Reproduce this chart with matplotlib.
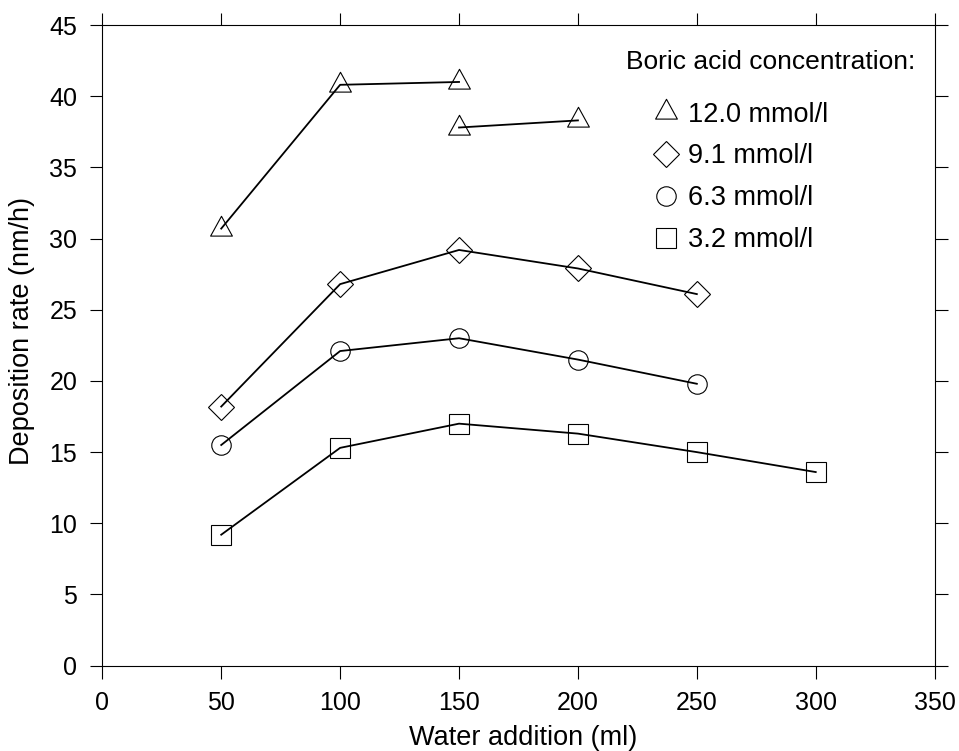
import matplotlib
matplotlib.use("Agg")
import matplotlib.pyplot as plt
from matplotlib.path import Path
from matplotlib.lines import Line2D

plt.rcParams['font.family'] = ['Liberation Sans', 'DejaVu Sans']

# ---- data ----
b120_x1 = [50, 100, 150]
b120_y1 = [30.7, 40.8, 41.0]
b120_x2 = [150, 200]
b120_y2 = [37.8, 38.3]
b91_x = [50, 100, 150, 200, 250]
b91_y = [18.2, 26.8, 29.2, 27.9, 26.1]
b63_x = [50, 100, 150, 200, 250]
b63_y = [15.5, 22.1, 23.0, 21.5, 19.8]
b32_x = [50, 100, 150, 200, 250, 300]
b32_y = [9.2, 15.3, 17.0, 16.3, 15.0, 13.6]

labels = ["12.0 mmol/l", "9.1 mmol/l", "6.3 mmol/l", "3.2 mmol/l"]
legend_title = "Boric acid concentration:"
xticks = [0, 50, 100, 150, 200, 250, 300, 350]
yticks = [0, 5, 10, 15, 20, 25, 30, 35, 40, 45]

# triangle centred on its centroid (w=22, h=20)
tri = Path([(0, 2/3*20), (-11, -20/3), (11, -20/3), (0, 2/3*20)],
           [Path.MOVETO, Path.LINETO, Path.LINETO, Path.CLOSEPOLY])

fig = plt.figure(figsize=(9.59, 7.51), dpi=100)
ax = fig.add_axes([0.1067, 0.1136, 0.8679, 0.8531])

lw = 1.3
mew = 0.8
styles = [
    dict(marker=tri, ms=19.0),
    dict(marker='D', ms=12.8),
    dict(marker='o', ms=14.0),
    dict(marker='s', ms=13.7),
]
common = dict(color='black', lw=lw, mfc='none', mec='black', mew=mew, clip_on=False)

ax.plot(b120_x1, b120_y1, **styles[0], **common)
ax.plot(b120_x2, b120_y2, **styles[0], **common)
ax.plot(b91_x, b91_y, **styles[1], **common)
ax.plot(b63_x, b63_y, **styles[2], **common)
ax.plot(b32_x, b32_y, **styles[3], **common)

ax.set_xlim(0, 350)
ax.set_ylim(0, 45)
ax.set_xticks(xticks)
ax.set_yticks(yticks)
ax.tick_params(direction='out', length=9, width=0.8, labelsize=18, pad=9,
               top=True, right=True, labeltop=False, labelright=False)
for s in ax.spines.values():
    s.set_linewidth(0.8)

ax.set_xlabel("Water addition (ml)", fontsize=19.5)
ax.set_ylabel("Deposition rate (nm/h)", fontsize=19.5)
ax.xaxis.set_label_coords(0.505, -0.0926)
ax.yaxis.set_label_coords(-0.081, 0.522)

ax.text(0.6292, 0.9427, legend_title, transform=ax.transAxes, fontsize=19,
        ha='left', va='center')

handles = [Line2D([], [], linestyle='none', mfc='none', mec='black', mew=mew, **st)
           for st in styles]
ax.legend(handles, labels, loc='upper left', bbox_to_anchor=(0.6623, 0.8806),
          frameon=False, fontsize=19.5, handlelength=0.92, handletextpad=0.36,
          borderpad=0, borderaxespad=0, labelspacing=0.59, numpoints=1)

fig.savefig("out.png", dpi=100)
